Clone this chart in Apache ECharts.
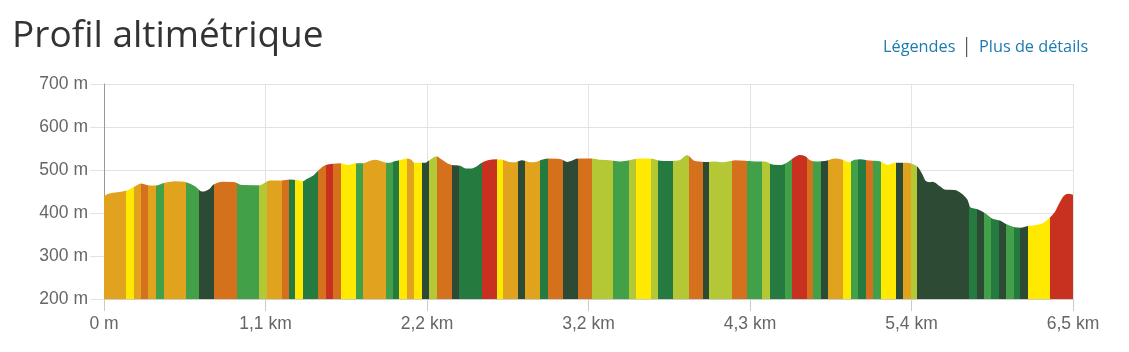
<!DOCTYPE html>
<html>
<head>
<meta charset="utf-8">
<script src="https://cdn.jsdelivr.net/npm/echarts@6/dist/echarts.min.js"></script>
<style>
html,body{margin:0;padding:0;background:#fff;}
#c{width:1129px;height:352px;}
</style>
</head>
<body>
<div id="c"></div>
<script>
// Distance (m) and elevation (m) of the profile
const profileDist = [0,30,147,207,247,294,348,400,475,548,609,642,660,710,735,790,876,910,1043,1060,1110,1190,1240,1290,1330,1360,1400,1430,1460,1485,1531,1580,1630,1685,1732,1780,1820,1886,1910,1950,2000,2020,2050,2070,2150,2173,2225,2247,2290,2325,2380,2420,2460,2490,2526,2568,2626,2666,2710,2750,2795,2850,2890,2930,2970,3050,3095,3130,3170,3260,3320,3380,3450,3500,3580,3650,3720,3780,3850,3900,3920,3950,4020,4090,4140,4190,4220,4290,4350,4420,4470,4530,4570,4620,4650,4690,4720,4770,4820,4890,4940,4980,5020,5060,5100,5140,5190,5240,5290,5360,5410,5440,5470,5490,5520,5540,5590,5620,5690,5720,5740,5770,5790,5840,5890,5940,5990,6030,6090,6130,6180,6260,6310,6360,6390,6420,6450,6480];
const profileElev = [437,443,450,460,467,463,462,468,472,470,460,450,448,455,465,471,470,464,463,465,474,474,476,475,472,478,485,495,505,510,513,514,510,514,514,520,522,515,515,519,523,525,523,516,515,520,530,525,515,510,508,502,502,506,515,521,523,522,517,516,521,516,517,522,525,524,517,520,525,525,522,521,518,520,525,525,520,519,521,533,527,519,517,518,516,519,521,520,518,518,511,510,516,528,533,530,521,518,519,525,522,516,522,523,521,520,518,510,515,515,512,505,488,474,470,471,460,453,452,447,442,430,412,407,398,385,381,373,365,364,368,372,382,400,420,438,443,441];

// Coloured sections: end distance (m) and slope class
const segEnds = [147,199,247,296,348,399,546,637,738,887,1039,1092,1190,1239,1279,1333,1433,1483,1531,1583,1683,1732,1884,1933,1975,2024,2073,2125,2173,2225,2325,2374,2526,2626,2666,2767,2815,2916,2967,3067,3168,3261,3406,3509,3558,3658,3707,3807,3910,4008,4048,4200,4300,4402,4454,4554,4603,4699,4743,4793,4844,4944,4995,5044,5096,5145,5196,5296,5345,5395,5435,5787,5836,5885,5934,5985,6032,6085,6126,6177,6326,6480];
const segClasses = ['gold','yellow','gold','orange','gold','green','gold','green','darkest','orange','green','lime','gold','orange','dkgreen','yellow','dkgreen','orange','red','orange','yellow','green','gold','green','dkgreen','yellow','gold','yellow','darkest','lime','orange','darkest','dkgreen','red','yellow','gold','darkest','gold','dkgreen','orange','darkest','orange','lime','green','lime','yellow','lime','dkgreen','lime','orange','darkest','lime','orange','green','lime','dkgreen','green','red','orange','green','darkest','gold','yellow','green','dkgreen','orange','green','yellow','darkest','gold','lime','darkest','dkgreen','darkest','green','dkgreen','darkest','green','dkgreen','darkest','yellow','red'];

const xTickLabels = ['0 m','1,1 km','2,2 km','3,2 km','4,3 km','5,4 km','6,5 km'];
const yTicks = [200,300,400,500,600,700];

const palette = {
  gold:'#E1A31D', yellow:'#FFE900', orange:'#D5711D', green:'#42A048',
  dkgreen:'#247A3F', darkest:'#2C4A34', lime:'#B4C836', red:'#C8301F'
};

const xMax = segEnds[segEnds.length-1];
const xInterval = xMax / (xTickLabels.length - 1);

const pieces = segEnds.map((end, i) => {
  const start = i === 0 ? 0 : segEnds[i-1];
  const p = { gte: start, color: palette[segClasses[i]] };
  if (i === segEnds.length - 1) p.lte = end + 1; else p.lt = end;
  return p;
});

const chart = echarts.init(document.getElementById('c'), null, {renderer:'canvas'});
chart.setOption({
  animation: false,
  backgroundColor: '#fff',
  title: {
    text: 'Profil altimétrique',
    left: 7, top: 13,
    textStyle: { fontFamily: 'Open Sans', fontSize: 37, fontWeight: 'normal', color: '#333' }
  },
  graphic: [
    { type:'text', left: 883, top: 39, style:{ text:'Légendes', font:'16.3px "Open Sans"', fill:'#1B7AB0' } },
    { type:'rect', left: 966, top: 37, shape:{ width:1.2, height:20 }, style:{ fill:'#555' } },
    { type:'text', left: 979, top: 39, style:{ text:'Plus de détails', font:'16.3px "Open Sans"', fill:'#1B7AB0' } }
  ],
  grid: { left: 104, right: 56, top: 84, bottom: 53, containLabel: false },
  xAxis: {
    type: 'value', min: 0, max: xMax, interval: xInterval,
    axisLine: { show: true, lineStyle: { color: '#ccc' } },
    axisTick: { show: true, length: 12, lineStyle: { color: '#ccc' } },
    axisLabel: {
      margin: 16, color: '#666', fontFamily: 'Liberation Sans', fontSize: 17.5,
      formatter: v => xTickLabels[Math.round(v / xInterval)]
    },
    splitLine: { show: true, lineStyle: { color: '#e3e3e3' } }
  },
  yAxis: {
    type: 'value', min: yTicks[0], max: yTicks[yTicks.length-1], interval: 100,
    axisLine: { show: true, lineStyle: { color: '#999' } },
    axisTick: { show: true, length: 14, lineStyle: { color: '#e3e3e3' } },
    axisLabel: { margin: 16, color: '#666', fontFamily: 'Liberation Sans', fontSize: 17.5, formatter: v => v + ' m' },
    splitLine: { show: true, lineStyle: { color: '#e3e3e3' } }
  },
  visualMap: {
    type: 'piecewise', show: false, dimension: 0, seriesIndex: 0, pieces: pieces
  },
  series: [{
    type: 'line',
    data: profileDist.map((d, i) => [d, profileElev[i]]),
    smooth: 0.3,
    symbol: 'none',
    lineStyle: { width: 1.5 },
    areaStyle: { opacity: 1, origin: 'start' },
    z: 3
  }]
});
</script>
</body>
</html>
